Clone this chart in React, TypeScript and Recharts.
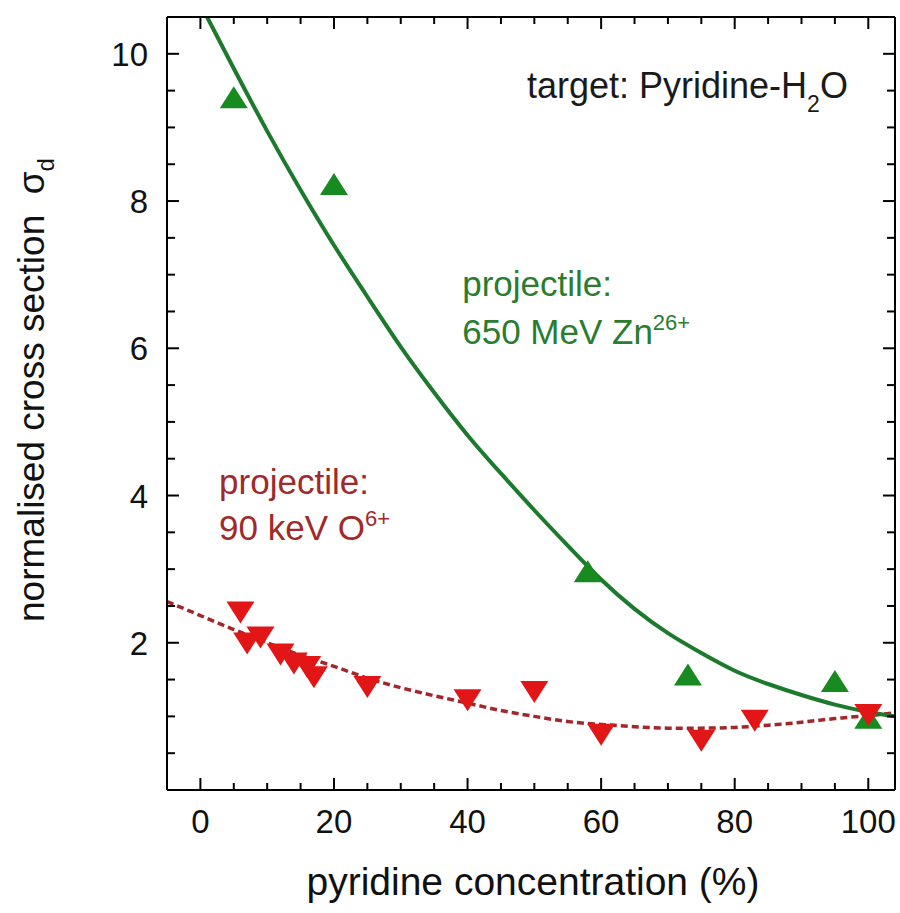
import React from 'react';
import { ComposedChart, Line, Scatter, XAxis, YAxis, ReferenceDot } from 'recharts';

// ---- axis ticks ----
const X_TICKS = [0, 5, 10, 15, 20, 25, 30, 35, 40, 45, 50, 55, 60, 65, 70, 75, 80, 85, 90, 95, 100];
const X_LABELS = [0, 20, 40, 60, 80, 100];
const Y_TICKS = [0.5, 1, 1.5, 2, 2.5, 3, 3.5, 4, 4.5, 5, 5.5, 6, 6.5, 7, 7.5, 8, 8.5, 9, 9.5, 10];
const Y_LABELS = [2, 4, 6, 8, 10];

// ---- 650 MeV Zn26+ projectile (green, up triangles) ----
const ZN_X = [5, 20, 58, 73, 95, 100];
const ZN_Y = [9.41, 8.23, 2.97, 1.57, 1.48, 0.98];

// ---- 90 keV O6+ projectile (red, down triangles) ----
const O_X = [6, 7, 9, 12, 14, 16, 17, 25, 40, 50, 60, 75, 83, 100];
const O_Y = [2.41, 1.99, 2.07, 1.84, 1.72, 1.67, 1.53, 1.40, 1.22, 1.33, 0.75, 0.67, 0.94, 1.02];

// ---- fitted curves ----
const ZN_FIT_X = [1, 5, 10, 15, 20, 25, 30, 35, 40, 45, 50, 55, 60, 65, 70, 75, 80, 85, 90, 95, 100, 104];
const ZN_FIT_Y = [10.5, 9.8, 8.95, 8.15, 7.4, 6.7, 6.02, 5.4, 4.82, 4.3, 3.8, 3.32, 2.86, 2.46, 2.13, 1.86, 1.62, 1.44, 1.29, 1.16, 1.06, 1.0];
const O_FIT_X = [-5, 0, 5, 10, 15, 20, 25, 30, 35, 40, 45, 50, 55, 60, 65, 70, 75, 80, 85, 90, 95, 100, 104];
const O_FIT_Y = [2.56, 2.37, 2.18, 2.0, 1.83, 1.68, 1.52, 1.39, 1.28, 1.18, 1.08, 1.0, 0.93, 0.89, 0.86, 0.84, 0.84, 0.85, 0.88, 0.92, 0.97, 1.01, 1.05];

const zip = (xs: number[], ys: number[]) => xs.map((x, i) => ({ x, y: ys[i] }));
const znPts = zip(ZN_X, ZN_Y);
const oPts = zip(O_X, O_Y);
const znFit = zip(ZN_FIT_X, ZN_FIT_Y);
const oFit = zip(O_FIT_X, O_FIT_Y);

const FONT = '"Liberation Sans", Arial, Helvetica, sans-serif';
const GREEN_TXT = '#2a7c2e';
const RED_TXT = '#a02a2a';

const BottomTick = (p: any) => {
  const v = p.payload.value;
  const major = X_LABELS.includes(v);
  return (
    <g>
      <line x1={p.x} x2={p.x} y1={p.y} y2={p.y - (major ? 12 : 7)} stroke="#000" strokeWidth={2} />
      {major && (
        <text x={p.x} y={p.y + 43} textAnchor="middle" fontSize={33} fill="#111" fontFamily={FONT}>
          {v}
        </text>
      )}
    </g>
  );
};
const TopTick = (p: any) => {
  const major = X_LABELS.includes(p.payload.value);
  return <line x1={p.x} x2={p.x} y1={p.y} y2={p.y + (major ? 12 : 7)} stroke="#000" strokeWidth={2} />;
};
const LeftTick = (p: any) => {
  const v = p.payload.value;
  const major = Y_LABELS.includes(v);
  return (
    <g>
      <line x1={p.x} x2={p.x + (major ? 12 : 8)} y1={p.y} y2={p.y} stroke="#000" strokeWidth={2} />
      {major && (
        <text x={p.x - 19} y={p.y + 12} textAnchor="end" fontSize={33} fill="#111" fontFamily={FONT}>
          {v}
        </text>
      )}
    </g>
  );
};
const RightTick = (p: any) => {
  const major = Y_LABELS.includes(p.payload.value);
  return <line x1={p.x} x2={p.x - (major ? 12 : 8)} y1={p.y} y2={p.y} stroke="#000" strokeWidth={2} />;
};

const XTitle = () => (
  <text x={533} y={895} textAnchor="middle" fontSize={39} fill="#111" fontFamily={FONT}>
    pyridine concentration (%)
  </text>
);
const YTitle = () => (
  <text transform="translate(44, 390) rotate(-90)" textAnchor="middle" fontSize={37} fill="#111" fontFamily={FONT}>
    {'normalised cross section\u00A0\u00A0σ'}
    <tspan dy={10} fontSize={24}>d</tspan>
  </text>
);

const TriUp = (p: any) => (
  <polygon points={`${p.cx - 14},${p.cy + 11} ${p.cx + 14},${p.cy + 11} ${p.cx},${p.cy - 11}`} fill="#178a20" />
);
const TriDown = (p: any) => (
  <polygon points={`${p.cx - 14},${p.cy - 11} ${p.cx + 14},${p.cy - 11} ${p.cx},${p.cy + 11}`} fill="#e21616" />
);

const textAt = (render: (cx: number, cy: number) => React.ReactNode) => (p: any) => <g>{render(p.cx, p.cy)}</g>;

export default function App() {
  return (
    <div style={{ position: 'absolute', left: 0, top: 0, background: '#fff' }}>
      <ComposedChart width={900} height={913} margin={{ top: 0, right: 0, bottom: 0, left: 0 }}>
        <XAxis
          xAxisId="b"
          dataKey="x"
          type="number"
          orientation="bottom"
          domain={[-5, 104]}
          allowDataOverflow
          ticks={X_TICKS}
          interval={0}
          tickSize={0}
          tickMargin={0}
          tickLine={false}
          tick={<BottomTick />}
          axisLine={{ stroke: '#000', strokeWidth: 2 }}
          height={123}
          label={<XTitle />}
        />
        <XAxis
          xAxisId="t"
          dataKey="x"
          type="number"
          orientation="top"
          domain={[-5, 104]}
          allowDataOverflow
          ticks={X_TICKS}
          interval={0}
          tickSize={0}
          tickMargin={0}
          tickLine={false}
          tick={<TopTick />}
          axisLine={{ stroke: '#000', strokeWidth: 2 }}
          height={17}
        />
        <YAxis
          yAxisId="l"
          dataKey="y"
          type="number"
          orientation="left"
          domain={[0, 10.5]}
          allowDataOverflow
          ticks={Y_TICKS}
          interval={0}
          tickSize={0}
          tickMargin={0}
          tickLine={false}
          tick={<LeftTick />}
          axisLine={{ stroke: '#000', strokeWidth: 2 }}
          width={167}
          label={<YTitle />}
        />
        <YAxis
          yAxisId="r"
          dataKey="y"
          type="number"
          orientation="right"
          domain={[0, 10.5]}
          allowDataOverflow
          ticks={Y_TICKS}
          interval={0}
          tickSize={0}
          tickMargin={0}
          tickLine={false}
          tick={<RightTick />}
          axisLine={{ stroke: '#000', strokeWidth: 2 }}
          width={5}
        />

        <Line
          xAxisId="b"
          yAxisId="l"
          data={oFit}
          dataKey="y"
          type="natural"
          stroke="#a3262a"
          strokeWidth={3.5}
          strokeDasharray="7 4"
          dot={false}
          activeDot={false}
          isAnimationActive={false}
        />
        <Line
          xAxisId="b"
          yAxisId="l"
          data={znFit}
          dataKey="y"
          type="natural"
          stroke="#1c7a2c"
          strokeWidth={4}
          dot={false}
          activeDot={false}
          isAnimationActive={false}
        />
        <Scatter xAxisId="b" yAxisId="l" data={znPts} dataKey="y" shape={<TriUp />} isAnimationActive={false} />
        <Scatter xAxisId="b" yAxisId="l" data={oPts} dataKey="y" shape={<TriDown />} isAnimationActive={false} />

        <ReferenceDot
          xAxisId="b"
          yAxisId="l"
          x={48.9}
          y={9.4}
          r={0}
          shape={textAt((cx, cy) => (
            <text x={cx} y={cy} fontSize={36} fill="#1a1a1a" fontFamily={FONT}>
              target: Pyridine-H
              <tspan dy={14} fontSize={23}>2</tspan>
              <tspan dy={-14}>O</tspan>
            </text>
          ))}
        />
        <ReferenceDot
          xAxisId="b"
          yAxisId="l"
          x={39.2}
          y={6.71}
          r={0}
          shape={textAt((cx, cy) => (
            <text x={cx} y={cy} fontSize={35} fill={GREEN_TXT} fontFamily={FONT}>
              projectile:
            </text>
          ))}
        />
        <ReferenceDot
          xAxisId="b"
          yAxisId="l"
          x={39.2}
          y={6.06}
          r={0}
          shape={textAt((cx, cy) => (
            <text x={cx} y={cy} fontSize={35} fill={GREEN_TXT} fontFamily={FONT}>
              650 MeV Zn
              <tspan dy={-14} fontSize={22}>26+</tspan>
            </text>
          ))}
        />
        <ReferenceDot
          xAxisId="b"
          yAxisId="l"
          x={2.8}
          y={4.02}
          r={0}
          shape={textAt((cx, cy) => (
            <text x={cx} y={cy} fontSize={35} fill={RED_TXT} fontFamily={FONT}>
              projectile:
            </text>
          ))}
        />
        <ReferenceDot
          xAxisId="b"
          yAxisId="l"
          x={2.8}
          y={3.39}
          r={0}
          shape={textAt((cx, cy) => (
            <text x={cx} y={cy} fontSize={35} fill={RED_TXT} fontFamily={FONT}>
              90 keV O
              <tspan dy={-14} fontSize={22}>6+</tspan>
            </text>
          ))}
        />
      </ComposedChart>
    </div>
  );
}
